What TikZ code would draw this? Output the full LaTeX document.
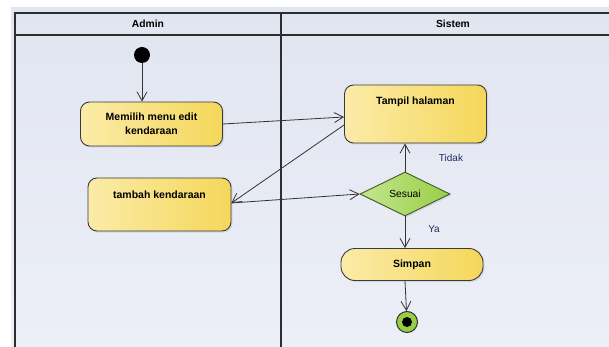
\documentclass[tikz,border=0pt]{standalone}
\usepackage{fontspec}
\setmainfont{Liberation Sans}
\usetikzlibrary{arrows.meta,shapes.geometric,shadows}
\definecolor{bgtop}{HTML}{E1E5F0}
\definecolor{bgbot}{HTML}{ECEFF7}
\definecolor{laneline}{HTML}{2E2E2E}
\definecolor{boxlight}{HTML}{FBEBA8}
\definecolor{boxdark}{HTML}{F4D75A}
\definecolor{boxline}{HTML}{3A3A3A}
\definecolor{greenlight}{HTML}{C4E68E}
\definecolor{greendark}{HTML}{98CE46}
\definecolor{greenline}{HTML}{40582A}
\definecolor{guardtext}{HTML}{1C2F5E}
\definecolor{flowline}{HTML}{333333}
\begin{document}
\begin{tikzpicture}[x=1pt, y=-1pt, >={Straight Barb[length=9pt,width=10pt]},
    every node/.style={font=\fontsize{10}{12}\selectfont},
    lane/.style={draw=laneline, line width=1.3pt},
    lanetitle/.style={font=\fontsize{10.3}{12}\selectfont\bfseries},
    actbox/.style={draw=boxline, line width=0.9pt, rounded corners=9pt,
        left color=boxlight, right color=boxdark, inner sep=0pt, align=center,
        font=\fontsize{10.5}{14}\selectfont\bfseries,
        drop shadow={shadow xshift=1.5pt, shadow yshift=-1.5pt, opacity=0.2}},
    decision/.style={diamond, draw=greenline, line width=0.9pt, inner sep=0pt,
        left color=greenlight, right color=greendark,
        drop shadow={shadow xshift=1.5pt, shadow yshift=-1.5pt, opacity=0.2}},
    startnode/.style={circle, fill=black, inner sep=0pt, minimum size=16pt},
    endnode/.style={circle, draw=laneline, line width=1pt, fill=greendark, inner sep=0pt,
        minimum size=21pt,
        path picture={\fill[black] (path picture bounding box.center) circle (5pt);}},
    flow/.style={->, draw=flowline, line width=0.8pt},
    guard/.style={text=guardtext}]
    \useasboundingbox (0,0) rectangle (609,347);
    \fill[top color=bgtop, bottom color=bgbot] (11,8) rectangle (609,347);

    % swimlanes
    \draw[lane] (15,347) -- (15,13) -- (615,13);
    \draw[lane] (15,35) -- (615,35);
    \draw[lane] (281,13) -- (281,347);
    \node[lanetitle] (admin) at (148,24) {Admin};
    \node[lanetitle] (sistem) at (453,24) {Sistem};

    % Admin
    \node[startnode] (start) at (142,55) {};
    \node[actbox, minimum width=142pt, minimum height=44pt] (memilih) at (151.5,124) {Memilih menu edit\\kendaraan};
    \node[actbox, minimum width=143pt, minimum height=53pt, text height=7.5pt, text depth=20.5pt] (tambah) at (159.5,204.5) {tambah kendaraan};

    % Sistem
    \node[actbox, minimum width=142pt, minimum height=58pt, text height=7.5pt, text depth=25.5pt] (tampil) at (415.5,114) {Tampil halaman};
    \node[decision, minimum width=90pt, minimum height=44pt, font=\fontsize{10.3}{12}\selectfont] (sesuai) at (405,194) {Sesuai};
    \node[actbox, rounded corners=14pt, minimum width=142pt, minimum height=32pt] (simpan) at (412,264.5) {Simpan};
    \node[endnode] (final) at (407,322) {};
    \node[guard] (tidak) at (451,158) {Tidak};
    \node[guard] (ya) at (434,229) {Ya};

    % alur
    \draw[flow] (start) -- (start |- memilih.north);
    \draw[flow] (memilih.east) -- ([yshift=-3pt]tampil.west);
    \draw[flow] ([yshift=-11pt]tampil.west) -- ([yshift=1.5pt]tambah.east);
    \draw[flow] ([yshift=1.5pt]tambah.east) -- (sesuai.west);
    \draw[flow] (sesuai.north) -- (sesuai.north |- tampil.south);
    \draw[flow] (sesuai.south) -- (sesuai.south |- simpan.north);
    \draw[flow] (sesuai.south |- simpan.south) -- (final);
\end{tikzpicture}
\end{document}
